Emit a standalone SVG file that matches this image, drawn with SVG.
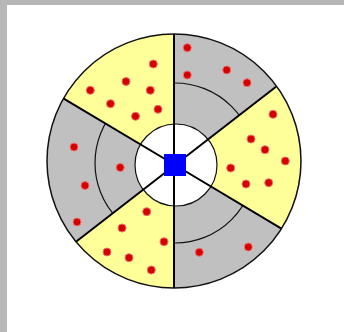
<svg xmlns="http://www.w3.org/2000/svg" width="344" height="332" viewBox="0 0 344 332">
<style>
.yel{fill:#ffff99;stroke:none}
.div{stroke:#000;stroke-width:2;fill:none}
.arc{stroke:#111;stroke-width:1.2;fill:none}
.dot{fill:#d40000;stroke:#f07070;stroke-width:1}
</style>
<rect x="0" y="0" width="344" height="332" fill="#fff"/>
<rect x="0" y="0" width="344" height="5" fill="#b5b5b5"/>
<rect x="0" y="0" width="7" height="332" fill="#b8b8b8"/>
<g id="wheel">
<circle cx="174" cy="161" r="127" fill="#c0c0c0"/>
<circle cx="175" cy="163" r="80" class="arc"/>
<path class="yel" d="M175,165 L174,34 A127,127 0 0,0 63.3,98.3 Z"/>
<path class="yel" d="M175,165 L276,86.7 A127,127 0 0,1 281,228.3 Z"/>
<path class="yel" d="M175,165 L174,288 A127,127 0 0,1 76,241.7 Z"/>
<circle cx="176" cy="165" r="41" fill="#fff" stroke="#111" stroke-width="1.2"/>
<circle cx="174" cy="161" r="127" fill="none" stroke="#111" stroke-width="1.5"/>
</g>
<g id="dividers">
<line class="div" x1="174" y1="34" x2="174" y2="288"/>
<line class="div" x1="63.3" y1="98.3" x2="175" y2="165"/>
<line class="div" x1="276" y1="86.7" x2="175" y2="165"/>
<line class="div" x1="281" y1="228.3" x2="175" y2="165"/>
<line class="div" x1="76" y1="241.7" x2="175" y2="165"/>
</g>
<g id="hub"><rect x="164" y="154" width="22" height="22" fill="#0000ff"/></g>
<g id="dots">
<circle class="dot" cx="153.3" cy="64" r="4"/>
<circle class="dot" cx="126" cy="81.5" r="4"/>
<circle class="dot" cx="90.3" cy="90.3" r="4"/>
<circle class="dot" cx="150.3" cy="90.3" r="4"/>
<circle class="dot" cx="110.5" cy="103.7" r="4"/>
<circle class="dot" cx="158" cy="109.3" r="4"/>
<circle class="dot" cx="135.5" cy="116.3" r="4"/>
<circle class="dot" cx="187.3" cy="47.7" r="4"/>
<circle class="dot" cx="187.3" cy="75" r="4"/>
<circle class="dot" cx="226.7" cy="70" r="4"/>
<circle class="dot" cx="247" cy="82.7" r="4"/>
<circle class="dot" cx="273" cy="114.3" r="4"/>
<circle class="dot" cx="251" cy="139" r="4"/>
<circle class="dot" cx="265" cy="149.7" r="4"/>
<circle class="dot" cx="285.3" cy="161" r="4"/>
<circle class="dot" cx="230.7" cy="168" r="4"/>
<circle class="dot" cx="246" cy="184" r="4"/>
<circle class="dot" cx="268.7" cy="182.7" r="4"/>
<circle class="dot" cx="199.3" cy="252.3" r="4"/>
<circle class="dot" cx="248.3" cy="247" r="4"/>
<circle class="dot" cx="146.7" cy="211.7" r="4"/>
<circle class="dot" cx="122" cy="228" r="4"/>
<circle class="dot" cx="164" cy="241.7" r="4"/>
<circle class="dot" cx="107" cy="252" r="4"/>
<circle class="dot" cx="129" cy="257.7" r="4"/>
<circle class="dot" cx="151.3" cy="270" r="4"/>
<circle class="dot" cx="74" cy="147" r="4"/>
<circle class="dot" cx="120.2" cy="167.5" r="4"/>
<circle class="dot" cx="85" cy="185.5" r="4"/>
<circle class="dot" cx="77" cy="222" r="4"/>
</g>
</svg>
